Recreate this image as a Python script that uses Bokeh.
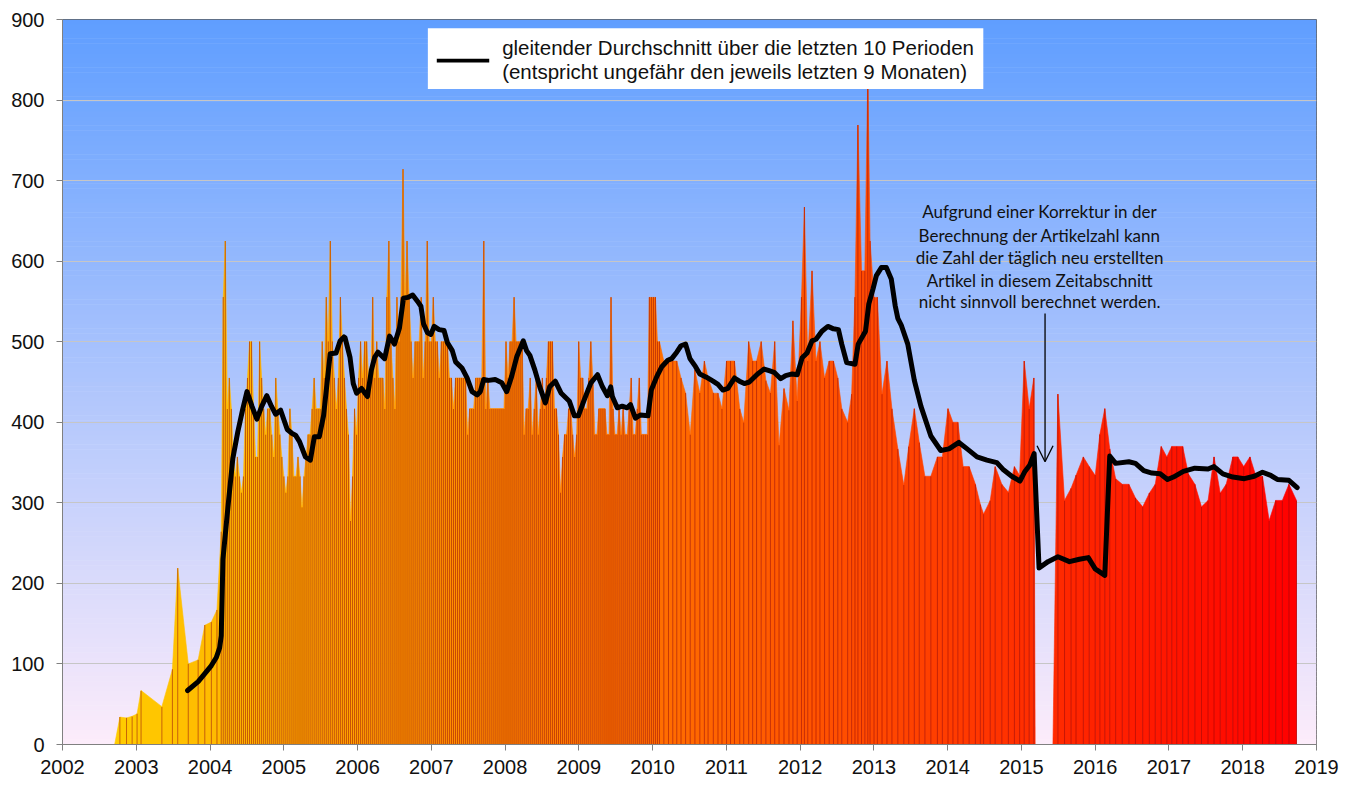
import numpy as np
from bokeh.plotting import figure
from bokeh.models import Range1d, FixedTicker, Label, BoxAnnotation, Arrow, OpenHead
from bokeh.embed import file_html
from bokeh.resources import INLINE

# ---------------- data ----------------
early_years = [2002.707, 2002.778, 2002.868, 2002.944, 2003.011, 2003.065, 2003.347,
               2003.490, 2003.562, 2003.705, 2003.839, 2003.929, 2004.018, 2004.094]
early_vals = [0, 34, 33, 35, 38, 67, 47, 93, 219, 100, 105, 148, 152, 167]

# dense period: one value about every 10 days, starting late February 2004
dense_start = 2004.152
dense_step_days = 10
dense_vals = [
    264, 555, 625, 417, 455, 417, 357, 333, 357, 333,
    313, 333, 417, 455, 500, 500, 417, 357, 357, 500,
    455, 417, 385, 417, 417, 385, 357, 455, 417, 385,
    357, 333, 313, 333, 417, 385, 333, 333, 357, 333,
    294, 333, 357, 385, 385, 417, 455, 417, 417, 417,
    500, 455, 555, 500, 625, 500, 455, 417, 455, 555,
    500, 455, 417, 385, 278, 333, 417, 385, 455, 500,
    455, 500, 500, 455, 455, 555, 455, 500, 455, 455,
    455, 417, 555, 625, 500, 455, 417, 555, 500, 555,
    714, 555, 625, 555, 500, 455, 500, 500, 500, 555,
    455, 500, 625, 500, 500, 555, 500, 500, 455, 500,
    500, 500, 500, 455, 455, 417, 455, 455, 455, 455,
    455, 455, 385, 417, 417, 417, 455, 455, 455, 455,
    625, 417, 455, 417, 417, 417, 417, 417, 417, 417,
    417, 500, 455, 500, 500, 555, 500, 500, 500, 500,
    385, 417, 417, 455, 385, 417, 455, 385, 417, 455,
    417, 455, 500, 500, 500, 417, 417, 385, 313, 357,
    385, 385, 417, 417, 385, 357, 385, 500, 455, 455,
    417, 417, 455, 500, 455, 385, 385, 417, 417, 417,
    417, 385, 385, 555, 417, 385, 385, 417, 385, 417,
    385, 385, 417, 455, 385, 385, 417, 455, 385, 385,
    385, 385, 555, 555, 555, 555, 500, 500,
]

late_years = [
    2010.152, 2010.215, 2010.273, 2010.327, 2010.385, 2010.447, 2010.510, 2010.573,
    2010.640, 2010.702, 2010.752, 2010.823, 2010.886, 2010.940, 2011.002, 2011.056,
    2011.110, 2011.181, 2011.235, 2011.302, 2011.356, 2011.409, 2011.472, 2011.535,
    2011.597, 2011.655, 2011.714, 2011.781, 2011.848, 2011.902, 2011.960, 2012.018,
    2012.058, 2012.103, 2012.161, 2012.215, 2012.268, 2012.331, 2012.394, 2012.452,
    2012.510, 2012.564, 2012.644, 2012.698, 2012.743, 2012.783, 2012.832, 2012.877,
    2012.917, 2012.948, 2013.002, 2013.047, 2013.110, 2013.177, 2013.244, 2013.324,
    2013.405, 2013.472, 2013.548, 2013.615, 2013.691, 2013.772, 2013.861, 2013.928,
    2014.004, 2014.071, 2014.138, 2014.210, 2014.291, 2014.376, 2014.443, 2014.487,
    2014.577, 2014.644, 2014.734, 2014.823, 2014.905, 2014.975, 2015.038, 2015.105,
    2015.168, 2015.186, 2015.427, 2015.494, 2015.584, 2015.673, 2015.740, 2015.839,
    2015.919, 2016.000, 2016.063, 2016.130, 2016.197, 2016.277, 2016.367, 2016.456,
    2016.546, 2016.644, 2016.734, 2016.814, 2016.895, 2016.971, 2017.038, 2017.105,
    2017.186, 2017.262, 2017.351, 2017.441, 2017.530, 2017.611, 2017.695, 2017.776,
    2017.866, 2017.933, 2018.013, 2018.098, 2018.179, 2018.268, 2018.358, 2018.447,
    2018.537, 2018.626, 2018.729,
]
late_vals = [
    476, 476, 476, 476, 455, 436, 385, 465,
    436, 476, 455, 436, 436, 417, 476, 476,
    476, 417, 400, 500, 476, 476, 500, 452,
    436, 500, 371, 442, 415, 526, 427, 555,
    667, 476, 588, 476, 500, 455, 476, 476,
    455, 417, 400, 435, 555, 769, 588, 588,
    833, 625, 555, 555, 435, 476, 417, 367,
    322, 370, 417, 375, 333, 333, 357, 357,
    417, 400, 400, 345, 345, 323, 298, 286,
    303, 345, 323, 313, 345, 334, 476, 417,
    455, 0, 0, 435, 303, 318, 334, 357,
    345, 334, 385, 417, 367, 330, 323, 323,
    306, 295, 312, 323, 370, 357, 370, 370,
    370, 336, 323, 295, 303, 357, 312, 323,
    357, 357, 345, 357, 333, 333, 278, 303,
    303, 323, 303,
]

# moving average over the last 10 periods
ma_years = [
    2003.696, 2003.839, 2003.929, 2004.018, 2004.085, 2004.130, 2004.152, 2004.175,
    2004.242, 2004.309, 2004.376, 2004.443, 2004.501, 2004.568, 2004.635, 2004.702,
    2004.770, 2004.832, 2004.890, 2004.957, 2005.047, 2005.114, 2005.159, 2005.213,
    2005.293, 2005.360, 2005.414, 2005.481, 2005.539, 2005.629, 2005.709, 2005.763,
    2005.816, 2005.830, 2005.897, 2005.942, 2005.987, 2006.054, 2006.134, 2006.188,
    2006.233, 2006.277, 2006.367, 2006.434, 2006.501, 2006.568, 2006.622, 2006.680,
    2006.747, 2006.814, 2006.859, 2006.895, 2006.948, 2006.993, 2007.038, 2007.105,
    2007.172, 2007.217, 2007.284, 2007.329, 2007.418, 2007.485, 2007.552, 2007.620,
    2007.664, 2007.709, 2007.776, 2007.866, 2007.955, 2008.022, 2008.089, 2008.157,
    2008.246, 2008.291, 2008.336, 2008.403, 2008.470, 2008.546, 2008.604, 2008.680,
    2008.761, 2008.872, 2008.940, 2008.993, 2009.074, 2009.163, 2009.253, 2009.320,
    2009.387, 2009.432, 2009.454, 2009.521, 2009.588, 2009.655, 2009.700, 2009.767,
    2009.834, 2009.937, 2009.982, 2010.058, 2010.125, 2010.206, 2010.259, 2010.327,
    2010.385, 2010.447, 2010.506, 2010.582, 2010.640, 2010.729, 2010.819, 2010.886,
    2010.953, 2011.020, 2011.110, 2011.177, 2011.244, 2011.311, 2011.423, 2011.512,
    2011.579, 2011.647, 2011.736, 2011.803, 2011.893, 2011.960, 2012.027, 2012.094,
    2012.161, 2012.215, 2012.295, 2012.376, 2012.452, 2012.519, 2012.564, 2012.631,
    2012.743, 2012.787, 2012.886, 2012.931, 2012.989, 2013.033, 2013.101, 2013.168,
    2013.235, 2013.288, 2013.324, 2013.369, 2013.459, 2013.548, 2013.637, 2013.772,
    2013.906, 2014.018, 2014.152, 2014.264, 2014.398, 2014.532, 2014.667, 2014.756,
    2014.868, 2014.980, 2015.047, 2015.114, 2015.172, 2015.239, 2015.360, 2015.494,
    2015.651, 2015.785, 2015.906, 2016.000, 2016.130, 2016.197, 2016.277, 2016.456,
    2016.546, 2016.658, 2016.769, 2016.881, 2016.980, 2017.060, 2017.195, 2017.351,
    2017.530, 2017.611, 2017.731, 2017.866, 2018.022, 2018.156, 2018.268, 2018.380,
    2018.469, 2018.626, 2018.738,
]
ma_vals = [
    67, 78, 88, 98, 108, 120, 135, 230,
    294, 355, 388, 416, 438, 420, 404, 420,
    433, 420, 410, 415, 391, 386, 384, 376,
    357, 353, 382, 382, 408, 485, 486, 501,
    506, 505, 481, 448, 436, 442, 432, 465,
    481, 487, 479, 507, 497, 517, 554, 555,
    558, 550, 544, 522, 511, 509, 519, 515,
    514, 499, 489, 475, 467, 455, 438, 434,
    438, 453, 452, 453, 449, 438, 457, 481,
    501, 489, 483, 465, 444, 424, 444, 451,
    436, 426, 408, 408, 428, 449, 459, 444,
    433, 444, 432, 418, 420, 418, 422, 405,
    409, 408, 440, 457, 469, 477, 479, 487,
    495, 497, 479, 469, 460, 456, 451, 447,
    440, 442, 455, 451, 448, 450, 460, 466,
    464, 462, 454, 458, 460, 459, 480, 486,
    501, 503, 513, 519, 516, 515, 497, 474,
    472, 497, 513, 547, 566, 582, 592, 592,
    578, 545, 529, 521, 497, 452, 420, 383,
    365, 367, 375, 367, 357, 353, 350, 341,
    333, 327, 339, 347, 361, 219, 227, 233,
    227, 230, 232, 218, 210, 358, 349, 351,
    349, 340, 337, 336, 329, 332, 339, 343,
    342, 345, 336, 332, 330, 333, 338, 334,
    329, 328, 319,
]

year_ticks = list(range(2002, 2020))
value_ticks = list(range(0, 901, 100))

legend_lines = ["gleitender Durchschnitt über die letzten 10 Perioden",
                "(entspricht ungefähr den jeweils letzten 9 Monaten)"]
note_lines = ["Aufgrund einer Korrektur in der",
              "Berechnung der Artikelzahl kann",
              "die Zahl der täglich neu erstellten",
              "Artikel in diesem Zeitabschnitt",
              "nicht sinnvoll berechnet werden."]

# ---------------- assemble ----------------
dense_years = [dense_start + i * dense_step_days / 365.25 for i in range(len(dense_vals))]
xs = list(early_years) + dense_years + list(late_years)
ys = list(early_vals) + list(dense_vals) + list(late_vals)

x0, x1 = xs[0], xs[-1]

def area_color(x):
    t = (x - x0) / (x1 - x0)
    g = int(round(204 * (1 - t)))
    return "#%02x%02x%02x" % (255, g, 0)

patch_x, patch_y, patch_c = [], [], []
for i in range(len(xs) - 1):
    patch_x.append([xs[i], xs[i], xs[i + 1], xs[i + 1]])
    patch_y.append([0, ys[i], ys[i + 1], 0])
    patch_c.append(area_color(0.5 * (xs[i] + xs[i + 1])))

p = figure(width=1344, height=779, output_backend="svg", toolbar_location=None,
           x_range=Range1d(2002, 2019), y_range=Range1d(0, 900),
           min_border_left=62, min_border_right=28, min_border_top=19, min_border_bottom=35)
p.background_fill_color = "white"
p.border_fill_color = "white"
p.outline_line_color = "#606060"

# vertical background gradient (blue at top, pale pink at bottom)
top_c = np.array([95, 158, 255])
bot_c = np.array([253, 236, 250])
nb = 150
band_h = 900 / nb
bb, bt, bc = [], [], []
for k in range(nb):
    t = (k + 0.5) / nb
    c = bot_c * (1 - t) + top_c * t
    bb.append(k * band_h)
    bt.append(min(900, (k + 1) * band_h + 0.6))
    bc.append("#%02x%02x%02x" % tuple(int(round(v)) for v in c))
p.quad(left=2002, right=2019, bottom=bb, top=bt, fill_color=bc, line_color=None, level="image")

# area with horizontal gradient
p.patches(xs=patch_x, ys=patch_y, fill_color=patch_c, line_color=patch_c, line_width=0.6)

# dotted vertical lines at each data point
p.segment(x0=xs, y0=[0] * len(xs), x1=xs, y1=ys, line_color="#900000",
          line_dash="1 1", line_width=1, line_alpha=1.0)

# moving average
p.line(ma_years, ma_vals, line_color="black", line_width=5, line_join="round", line_cap="round")

# axes
p.xaxis.ticker = FixedTicker(ticks=year_ticks)
p.yaxis.ticker = FixedTicker(ticks=value_ticks)
for ax in (p.xaxis, p.yaxis):
    ax.axis_line_color = "#808080"
    ax.major_tick_line_color = "#808080"
    ax.minor_tick_line_color = None
    ax.major_tick_in = 0
    ax.major_tick_out = 6
    ax.major_label_text_font = "Liberation Sans"
    ax.major_label_text_font_size = "20px"
    ax.major_label_text_color = "#111111"
p.yaxis.major_label_standoff = 12
p.xaxis.major_label_standoff = 9
p.xgrid.grid_line_color = None
p.ygrid.grid_line_color = "#c6c6c6"
p.ygrid.grid_line_width = 1

# legend box (drawn by hand)
p.add_layout(BoxAnnotation(left=2006.953, right=2014.483, bottom=813.7, top=889.1,
                           fill_color="white", fill_alpha=1.0, line_color=None))
p.add_layout(BoxAnnotation(left=2007.074, right=2007.785, bottom=846.5, top=851.3,
                           fill_color="black", fill_alpha=1.0, line_color=None))
for txt, yv in zip(legend_lines, [864.8, 835.6]):
    p.add_layout(Label(x=2007.96, y=yv, text=txt, text_font="Liberation Sans",
                       text_font_size="20.5px", text_baseline="middle", text_align="left",
                       text_color="#111111"))

# annotation
for txt, yv in zip(note_lines, [661.6, 632.4, 604.5, 576.5, 549.7]):
    p.add_layout(Label(x=2015.248, y=yv, text=txt, text_font="Lato",
                       text_font_size="17px", text_baseline="middle", text_align="center",
                       text_color="#111111"))
p.add_layout(Arrow(end=OpenHead(size=16, line_width=1.3, line_color="black"),
                   x_start=2015.32, y_start=535, x_end=2015.32, y_end=351,
                   line_width=1.3, line_color="black"))

open("out.html", "w").write(file_html(p, INLINE))
